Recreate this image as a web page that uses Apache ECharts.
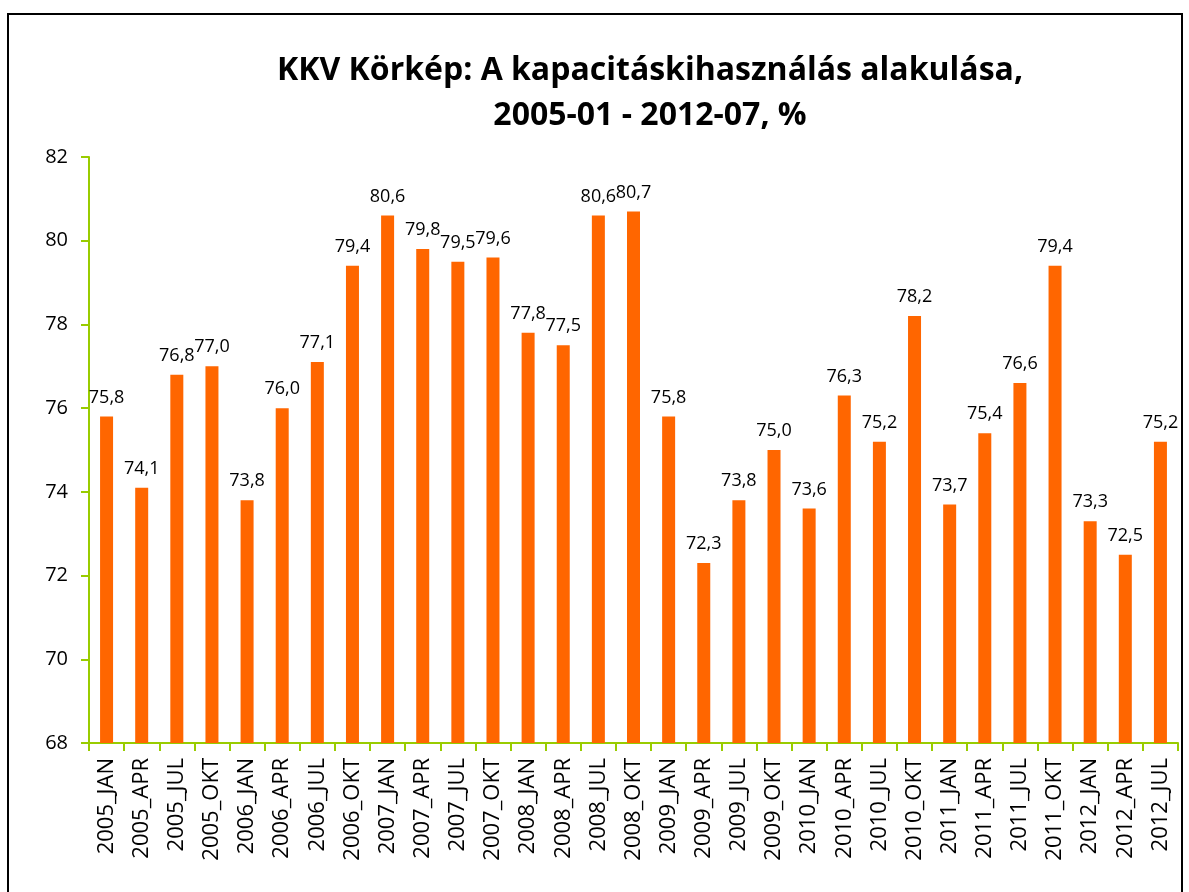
<!DOCTYPE html>
<html><head><meta charset="utf-8">
<script src="https://cdn.jsdelivr.net/npm/echarts@6/dist/echarts.min.js"></script>
<style>html,body{margin:0;padding:0;background:#fff}#c{width:1189px;height:892px}</style>
</head><body><div id="c"></div>
<script>
const categories = ["2005_JAN","2005_APR","2005_JUL","2005_OKT","2006_JAN","2006_APR","2006_JUL","2006_OKT","2007_JAN","2007_APR","2007_JUL","2007_OKT","2008_JAN","2008_APR","2008_JUL","2008_OKT","2009_JAN","2009_APR","2009_JUL","2009_OKT","2010_JAN","2010_APR","2010_JUL","2010_OKT","2011_JAN","2011_APR","2011_JUL","2011_OKT","2012_JAN","2012_APR","2012_JUL"];
const values = [75.8,74.1,76.8,77.0,73.8,76.0,77.1,79.4,80.6,79.8,79.5,79.6,77.8,77.5,80.6,80.7,75.8,72.3,73.8,75.0,73.6,76.3,75.2,78.2,73.7,75.4,76.6,79.4,73.3,72.5,75.2];
const titleText = "KKV Körkép: A kapacitáskihasználás alakulása,\n2005-01 - 2012-07, %";
const FONT = "'Open Sans', sans-serif";
const green = "#99cc00";
const chart = echarts.init(document.getElementById('c'), null, {renderer:'canvas'});
chart.setOption({
  animation:false,
  graphic:[{type:'rect',shape:{x:8,y:14,width:1174,height:900},style:{fill:'none',stroke:'#000',lineWidth:2},z:-1}],
  title:{text:titleText,left:645,top:43,textAlign:'center',
    textStyle:{fontFamily:FONT,fontSize:32,fontWeight:'bold',color:'#000',lineHeight:45}},
  grid:{left:89,right:11,top:157,bottom:149},
  xAxis:{type:'category',data:categories,boundaryGap:true,
    axisLine:{lineStyle:{color:green,width:2}},
    axisTick:{show:true,inside:false,length:8,lineStyle:{color:green,width:2},alignWithLabel:false},
    axisLabel:{rotate:90,interval:0,fontFamily:FONT,fontSize:22,color:'#000',margin:15}},
  yAxis:{type:'value',min:68,max:82,interval:2,
    axisLine:{show:true,lineStyle:{color:green,width:2}},
    axisTick:{show:true,length:8,lineStyle:{color:green,width:2}},
    splitLine:{show:false},
    axisLabel:{fontFamily:FONT,fontSize:20,color:'#000',margin:21}},
  series:[{type:'bar',data:values,barWidth:13,itemStyle:{color:'#ff6600'},
    label:{show:true,position:'top',distance:10,fontFamily:FONT,fontSize:18,color:'#000',
      formatter:p=>p.value.toFixed(1).replace('.',',')}}]
});
</script></body></html>
